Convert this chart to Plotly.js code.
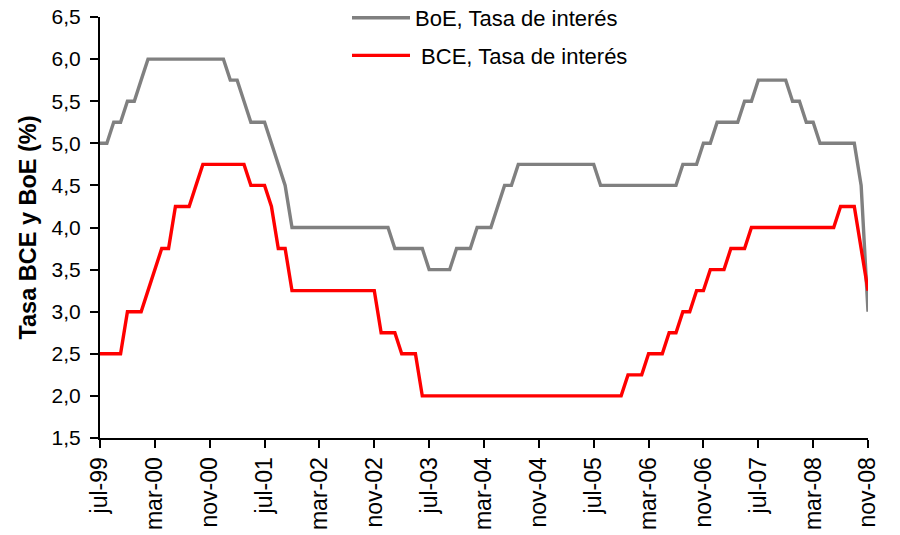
<!DOCTYPE html>
<html><head><meta charset="utf-8">
<script src="https://cdn.plot.ly/plotly-3.0.1.min.js"></script>
<style>html,body{margin:0;padding:0;background:#fff}#chart{width:900px;height:535px}</style>
</head><body><div id="chart"></div>
<script>
// Monthly categories: jul-99 ... nov-08
const monthNames = ['ene','feb','mar','abr','may','jun','jul','ago','sep','oct','nov','dic'];
const categories = [];
for (let y = 1999, m = 6; y < 2008 || (y === 2008 && m <= 10); ) {
  categories.push(monthNames[m] + '-' + String(y).slice(2));
  m++; if (m > 11) { m = 0; y++; }
}

const tickLabels = ['jul-99','mar-00','nov-00','jul-01','mar-02','nov-02','jul-03','mar-04',
                    'nov-04','jul-05','mar-06','nov-06','jul-07','mar-08','nov-08'];

// BoE, Tasa de interés (%)
const boe = [
  5.0,5.0,5.25,5.25,5.5,5.5,                       // jul-99..dec-99
  5.75,6.0,6.0,6.0,6.0,6.0,6.0,6.0,6.0,6.0,6.0,6.0, // 2000
  6.0,5.75,5.75,5.5,5.25,5.25,5.25,5.0,4.75,4.5,4.0,4.0, // 2001
  4.0,4.0,4.0,4.0,4.0,4.0,4.0,4.0,4.0,4.0,4.0,4.0, // 2002
  4.0,3.75,3.75,3.75,3.75,3.75,3.5,3.5,3.5,3.5,3.75,3.75, // 2003
  3.75,4.0,4.0,4.0,4.25,4.5,4.5,4.75,4.75,4.75,4.75,4.75, // 2004
  4.75,4.75,4.75,4.75,4.75,4.75,4.75,4.5,4.5,4.5,4.5,4.5, // 2005
  4.5,4.5,4.5,4.5,4.5,4.5,4.5,4.75,4.75,4.75,5.0,5.0,     // 2006
  5.25,5.25,5.25,5.25,5.5,5.5,5.75,5.75,5.75,5.75,5.75,5.5, // 2007
  5.5,5.25,5.25,5.0,5.0,5.0,5.0,5.0,5.0,4.5,3.0           // jan-08..nov-08
];

// BCE, Tasa de interés (%)
const bce = [
  2.5,2.5,2.5,2.5,3.0,3.0,                          // jul-99..dec-99
  3.0,3.25,3.5,3.75,3.75,4.25,4.25,4.25,4.5,4.75,4.75,4.75, // 2000
  4.75,4.75,4.75,4.75,4.5,4.5,4.5,4.25,3.75,3.75,3.25,3.25, // 2001
  3.25,3.25,3.25,3.25,3.25,3.25,3.25,3.25,3.25,3.25,3.25,2.75, // 2002
  2.75,2.75,2.5,2.5,2.5,2.0,2.0,2.0,2.0,2.0,2.0,2.0, // 2003
  2.0,2.0,2.0,2.0,2.0,2.0,2.0,2.0,2.0,2.0,2.0,2.0,  // 2004
  2.0,2.0,2.0,2.0,2.0,2.0,2.0,2.0,2.0,2.0,2.0,2.25, // 2005
  2.25,2.25,2.5,2.5,2.5,2.75,2.75,3.0,3.0,3.25,3.25,3.5, // 2006
  3.5,3.5,3.75,3.75,3.75,4.0,4.0,4.0,4.0,4.0,4.0,4.0, // 2007
  4.0,4.0,4.0,4.0,4.0,4.0,4.25,4.25,4.25,3.75,3.25   // jan-08..nov-08
];

const FONT = 'Liberation Sans, Arial, sans-serif';

const traces = [
  {x: categories, y: boe, type: 'scatter', mode: 'lines', name: 'BoE, Tasa de interés',
   legendgroup: 'a', line: {color: '#808080', width: 3.4}},
  {x: categories, y: bce, type: 'scatter', mode: 'lines', name: ' BCE, Tasa de interés',
   legendgroup: 'b', line: {color: '#ff0000', width: 3.4}}
];

const layout = {
  width: 900, height: 535,
  margin: {l: 100, r: 32, t: 17, b: 97, autoexpand: false},
  paper_bgcolor: '#fff', plot_bgcolor: '#fff',
  separators: ',.',
  font: {family: FONT, color: '#000', size: 21},
  showlegend: true,
  legend: {x: (347 - 100) / 768, y: (438 + 3) / 421, xanchor: 'left', yanchor: 'top',
           font: {family: FONT, size: 22, color: '#000'}, tracegroupgap: 6, itemwidth: 58,
           bgcolor: 'rgba(0,0,0,0)'},
  xaxis: {
    type: 'category', range: [0, categories.length - 1],
    tickmode: 'array', tickvals: tickLabels, ticktext: tickLabels,
    tickangle: -90, ticks: 'outside', ticklen: 8, tickwidth: 2, tickcolor: '#000',
    showline: true, linecolor: '#000', linewidth: 2, showgrid: false, zeroline: false,
    tickfont: {family: FONT, size: 23, color: '#000'}, automargin: false
  },
  yaxis: {
    range: [1.5, 6.5], tickvals: [1.5,2,2.5,3,3.5,4,4.5,5,5.5,6,6.5], tickformat: '.1f',
    ticks: 'outside', ticklen: 8, tickwidth: 2, tickcolor: '#000', ticklabelstandoff: 5,
    showline: true, linecolor: '#000', linewidth: 2, showgrid: false, zeroline: false,
    tickfont: {family: FONT, size: 21, color: '#000'}, automargin: false,
    title: {text: '<b>Tasa BCE y BoE (%)</b>', font: {family: FONT, size: 23.5, color: '#000'}, standoff: 8}
  }
};

Plotly.newPlot('chart', traces, layout, {displayModeBar: false, staticPlot: true});
</script></body></html>
